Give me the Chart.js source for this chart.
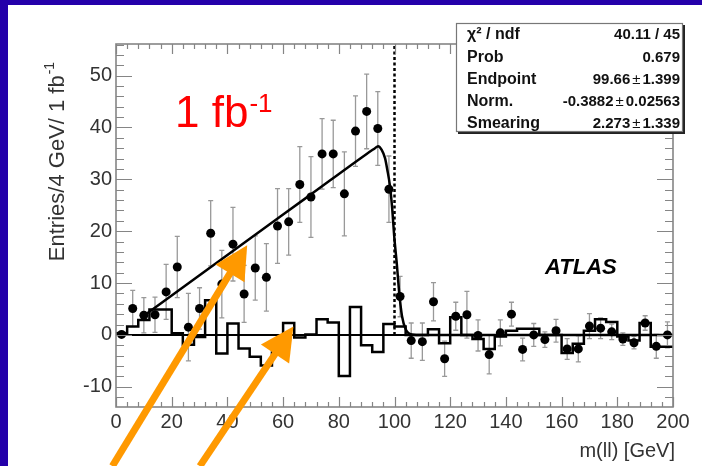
<!DOCTYPE html>
<html>
<head>
<meta charset="utf-8">
<script src="https://cdn.jsdelivr.net/npm/chart.js@4.4.1/dist/chart.umd.min.js"></script>
<style>
  body { margin: 0; background: #2400aa; width: 702px; height: 466px; overflow: hidden; }
  #panel { position: absolute; left: 8px; top: 5px; width: 694px; height: 461px; background: #fff; }
  #plot { position: absolute; left: 0; top: 0; }
</style>
</head>
<body>
<div id="panel"></div>
<canvas id="plot" width="702" height="466"></canvas>
<script>
// m(ll) bin centres, 4 GeV bins
const massBins = [2, 6, 10, 14, 18, 22, 26, 30, 34, 38, 42, 46, 50, 54, 58, 62, 66, 70, 74, 78,
                  82, 86, 90, 94, 98, 102, 106, 110, 114, 118, 122, 126, 130, 134, 138, 142, 146, 150, 154, 158,
                  162, 166, 170, 174, 178, 182, 186, 190, 194, 198];
const entries = [0.1, 5.1, 3.8, 3.9, 8.3, 13.1, 1.5, 5.1, 19.6, 9.8, 17.5, 7.9, 12.9, 11.1, 21.0, 21.8, 29.0, 26.6, 34.9, 34.9,
                 27.2, 39.3, 43.1, 39.8, 28.1, 7.4, -1.1, -1.3, 6.4, -4.6, 3.6, 3.9, -0.1, -3.8, 0.4, 4.0, -2.8, 0.0, -0.9, 0.8,
                 -2.7, -2.7, 1.7, 1.3, 0.6, -0.8, -1.5, 2.3, -2.2, 0.0];
const errors = [0, 3.5, 3.4, 3.4, 5.3, 5.9, 6.5, 4.0, 6.3, 6.5, 7.1, 5.5, 6.2, 6.5, 7.2, 6.4, 7.3, 7.8, 6.8, 6.5,
                8.1, 6.8, 7.2, 7.1, 6.4, 3.9, 3.4, 3.6, 3.7, 3.4, 2.7, 4.5, 3.0, 3.7, 2.5, 2.3, 2.2, 2.2, 1.5, 2.2,
                2.0, 2.5, 2.4, 2.0, 1.5, 1.2, 1.2, 1.4, 2.3, 2.5];

// histogram (bin contents, left edge = centre - 2)
const histContent = [0.3, 1.6, 2.9, 4.9, 4.9, 0.3, -1.9, -0.4, 6.7, -3.6, 2.2, -2.6, -4.2, -5.9, -3.4, 2.3, -0.5, 0.1, 3.0, 2.4,
                     -7.9, 5.4, -2.0, -3.3, 2.1, 1.6, 0.0, 0.0, 1.1, -1.6, 3.4, 0.0, -0.8, -2.7, -0.3, 0.8, 1.2, 1.2, 0.0, 0.0,
                     -3.5, -1.7, 0.8, 3.0, 2.5, -0.3, -1.1, 2.3, -2.3, -2.3];

// fitted curve
const fitMass   = [10, 30, 50, 70, 90, 93, 94.1, 95.4, 96.6, 97.4, 98.4, 99.2, 99.9, 100.8, 101.7, 102.7, 104.1, 106.2, 110, 200];
const fitValues = [3.7, 11.5, 19.3, 27.1, 34.9, 36.0, 36.4, 35.7, 34.1, 31.9, 28.6, 24.2, 19.0, 13.9, 8.1, 3.6, 1.0, 0.1, 0, 0];

const xTicks = [0, 20, 40, 60, 80, 100, 120, 140, 160, 180, 200];
const yTicks = [-10, 0, 10, 20, 30, 40, 50];
const endpointLine = 100;

const statsRows = [
  ['\u03c7\u00b2 / ndf', '40.11 / 45'],
  ['Prob', '0.679'],
  ['Endpoint', '99.66 \u00b1 1.399'],
  ['Norm.', '-0.3882 \u00b1 0.02563'],
  ['Smearing', '2.273 \u00b1 1.339']
];

// arrows in data coordinates: [tailX, tailY, tipX, tipY]
const arrows = [
  [-1.3, -25.3, 47.1, 17.3],
  [30.1, -25.3, 63.7, 1.6]
];

const FONT = '"Liberation Sans", Arial, Helvetica, sans-serif';

const points = massBins.map((m, i) => ({ x: m, y: entries[i] }));
const histPoints = histContent.map((v, i) => ({ x: massBins[i] - 2, y: v }));
histPoints.push({ x: massBins[massBins.length - 1] + 2, y: histContent[histContent.length - 1] });
const fitPoints = fitMass.map((m, i) => ({ x: m, y: fitValues[i] }));

const rootStyle = {
  id: 'rootStyle',
  beforeDatasetsDraw(chart) {
    const { ctx, scales: { x, y } } = chart;
    ctx.save();
    ctx.strokeStyle = '#999';
    ctx.lineWidth = 1.3;
    massBins.forEach((m, i) => {
      if (!errors[i]) return;
      const px = x.getPixelForValue(m);
      const top = y.getPixelForValue(entries[i] + errors[i]);
      const bot = y.getPixelForValue(entries[i] - errors[i]);
      ctx.beginPath();
      ctx.moveTo(px, top); ctx.lineTo(px, bot);
      ctx.moveTo(px - 2.5, top); ctx.lineTo(px + 2.5, top);
      ctx.moveTo(px - 2.5, bot); ctx.lineTo(px + 2.5, bot);
      ctx.stroke();
    });
    ctx.restore();
  },
  afterDatasetsDraw(chart) {
    const { ctx, chartArea: a, scales: { x, y } } = chart;
    ctx.save();
    ctx.strokeStyle = '#858585';
    ctx.lineWidth = 1.2;
    ctx.beginPath();
    for (let v = -12; v <= 56; v += 2) {
      const py = Math.round(y.getPixelForValue(v)) + 0.5;
      const len = v % 10 === 0 ? 16 : 8;
      ctx.moveTo(a.left, py); ctx.lineTo(a.left + len, py);
      ctx.moveTo(a.right, py); ctx.lineTo(a.right - len, py);
    }
    for (let v = 0; v <= 200; v += 4) {
      const px = Math.round(x.getPixelForValue(v)) + 0.5;
      const len = v % 20 === 0 ? 10 : 5;
      ctx.moveTo(px, a.bottom); ctx.lineTo(px, a.bottom - len);
      ctx.moveTo(px, a.top); ctx.lineTo(px, a.top + len);
    }
    ctx.stroke();
    ctx.lineWidth = 1.6;
    ctx.strokeRect(a.left, a.top, a.right - a.left, a.bottom - a.top);
    ctx.restore();
  },
  afterDraw(chart) {
    const { ctx, chartArea: a, scales: { x, y } } = chart;
    ctx.save();

    // axis titles
    ctx.fillStyle = '#333';
    ctx.font = '20px ' + FONT;
    ctx.textAlign = 'right';
    ctx.textBaseline = 'alphabetic';
    ctx.fillText('m(ll) [GeV]', a.right + 2, 457);

    ctx.save();
    ctx.translate(64, 162);
    ctx.rotate(-Math.PI / 2);
    ctx.font = '22px ' + FONT;
    const main = 'Entries/4 GeV/ 1 fb';
    const wMain = ctx.measureText(main).width;
    ctx.font = '14px ' + FONT;
    const wSup = ctx.measureText('-1').width;
    const start = -(wMain + wSup) / 2;
    ctx.textAlign = 'left';
    ctx.font = '22px ' + FONT;
    ctx.fillText(main, start, 0);
    ctx.font = '14px ' + FONT;
    ctx.fillText('-1', start + wMain + 1, -10);
    ctx.restore();

    // luminosity label
    ctx.fillStyle = '#ff0000';
    ctx.textAlign = 'left';
    ctx.font = '44px ' + FONT;
    ctx.fillText('1 fb', 175, 127);
    const wl = ctx.measureText('1 fb').width;
    ctx.font = '26px ' + FONT;
    ctx.fillText('-1', 175 + wl + 1, 112);

    // ATLAS
    ctx.fillStyle = '#000';
    ctx.font = 'italic bold 22px ' + FONT;
    ctx.fillText('ATLAS', 545, 274);

    // stats box
    const bx = 456, by = 23, bw = 227, bh = 109;
    ctx.fillStyle = '#222';
    ctx.fillRect(bx + 2, by + 2, bw, bh);
    ctx.fillStyle = '#fff';
    ctx.fillRect(bx, by, bw, bh);
    ctx.strokeStyle = '#777';
    ctx.lineWidth = 1.2;
    ctx.strokeRect(bx + 0.5, by + 0.5, bw - 1, bh - 1);
    ctx.fillStyle = '#111';
    const baselines = [39, 62, 84, 106, 128];
    statsRows.forEach((row, i) => {
      ctx.textAlign = 'left';
      ctx.font = 'bold 16px ' + FONT;
      ctx.fillText(row[0], 467, baselines[i]);
      ctx.textAlign = 'right';
      const parts = row[1].split(' \u00b1 ');
      let rx = 680;
      if (parts.length === 2) {
        ctx.font = 'bold 15px ' + FONT;
        ctx.fillText(parts[1], rx, baselines[i]);
        rx -= ctx.measureText(parts[1]).width + 2;
        ctx.font = '15px ' + FONT;
        ctx.fillText('\u00b1', rx, baselines[i]);
        rx -= ctx.measureText('\u00b1').width + 2;
        ctx.font = 'bold 15px ' + FONT;
        ctx.fillText(parts[0], rx, baselines[i]);
      } else {
        ctx.font = 'bold 15px ' + FONT;
        ctx.fillText(row[1], rx, baselines[i]);
      }
    });

    // orange arrows
    ctx.fillStyle = '#ff9900';
    ctx.strokeStyle = '#ff9900';
    arrows.forEach(([x0, y0, x1, y1]) => {
      const ax = x.getPixelForValue(x0), ay = y.getPixelForValue(y0);
      const tx = x.getPixelForValue(x1), ty = y.getPixelForValue(y1);
      const ang = Math.atan2(ty - ay, tx - ax);
      const headLen = 33, headHalf = 17;
      const bxp = tx - headLen * Math.cos(ang), byp = ty - headLen * Math.sin(ang);
      ctx.lineWidth = 7;
      ctx.beginPath();
      ctx.moveTo(ax, ay);
      ctx.lineTo(bxp + 2 * Math.cos(ang), byp + 2 * Math.sin(ang));
      ctx.stroke();
      ctx.beginPath();
      ctx.moveTo(tx, ty);
      ctx.lineTo(bxp + headHalf * Math.sin(ang), byp - headHalf * Math.cos(ang));
      ctx.lineTo(bxp - headHalf * Math.sin(ang), byp + headHalf * Math.cos(ang));
      ctx.closePath();
      ctx.fill();
    });
    ctx.restore();
  }
};

new Chart(document.getElementById('plot'), {
  type: 'scatter',
  data: {
    datasets: [
      {
        label: 'data',
        data: points,
        pointRadius: 4.5,
        pointBackgroundColor: '#000',
        pointBorderColor: '#000',
        pointBorderWidth: 0,
        showLine: false
      },
      {
        label: 'fit',
        data: fitPoints,
        showLine: true,
        borderColor: '#000',
        borderWidth: 2.5,
        pointRadius: 0,
        cubicInterpolationMode: 'monotone'
      },
      {
        label: 'histogram',
        data: histPoints,
        showLine: true,
        stepped: 'before',
        borderColor: '#000',
        borderWidth: 2.5,
        pointRadius: 0
      },
      {
        label: 'zero',
        data: [{ x: 0, y: 0 }, { x: 200, y: 0 }],
        showLine: true,
        borderColor: '#000',
        borderWidth: 2,
        pointRadius: 0
      },
      {
        label: 'endpoint',
        data: [{ x: endpointLine, y: 0 }, { x: endpointLine, y: 56.1 }],
        showLine: true,
        borderColor: '#000',
        borderWidth: 2.5,
        borderDash: [3, 2.5],
        pointRadius: 0
      }
    ]
  },
  options: {
    responsive: false,
    animation: false,
    layout: { padding: { left: 0, right: 29, top: 44, bottom: 0 } },
    plugins: { legend: { display: false }, tooltip: { enabled: false } },
    scales: {
      x: {
        type: 'linear',
        min: 0,
        max: 200,
        afterBuildTicks: s => { s.ticks = xTicks.map(v => ({ value: v })); },
        afterFit: s => { s.height = 59; },
        grid: { display: false, drawTicks: false },
        border: { display: false },
        ticks: { padding: 3, color: '#333', font: { family: FONT, size: 20 }, maxRotation: 0 }
      },
      y: {
        type: 'linear',
        min: -13.9,
        max: 56.1,
        afterBuildTicks: s => { s.ticks = yTicks.map(v => ({ value: v })); },
        afterFit: s => { s.width = 116; },
        grid: { display: false, drawTicks: false },
        border: { display: false },
        ticks: { padding: 4, color: '#333', font: { family: FONT, size: 20 } }
      }
    }
  },
  plugins: [rootStyle]
});
</script>
</body>
</html>
